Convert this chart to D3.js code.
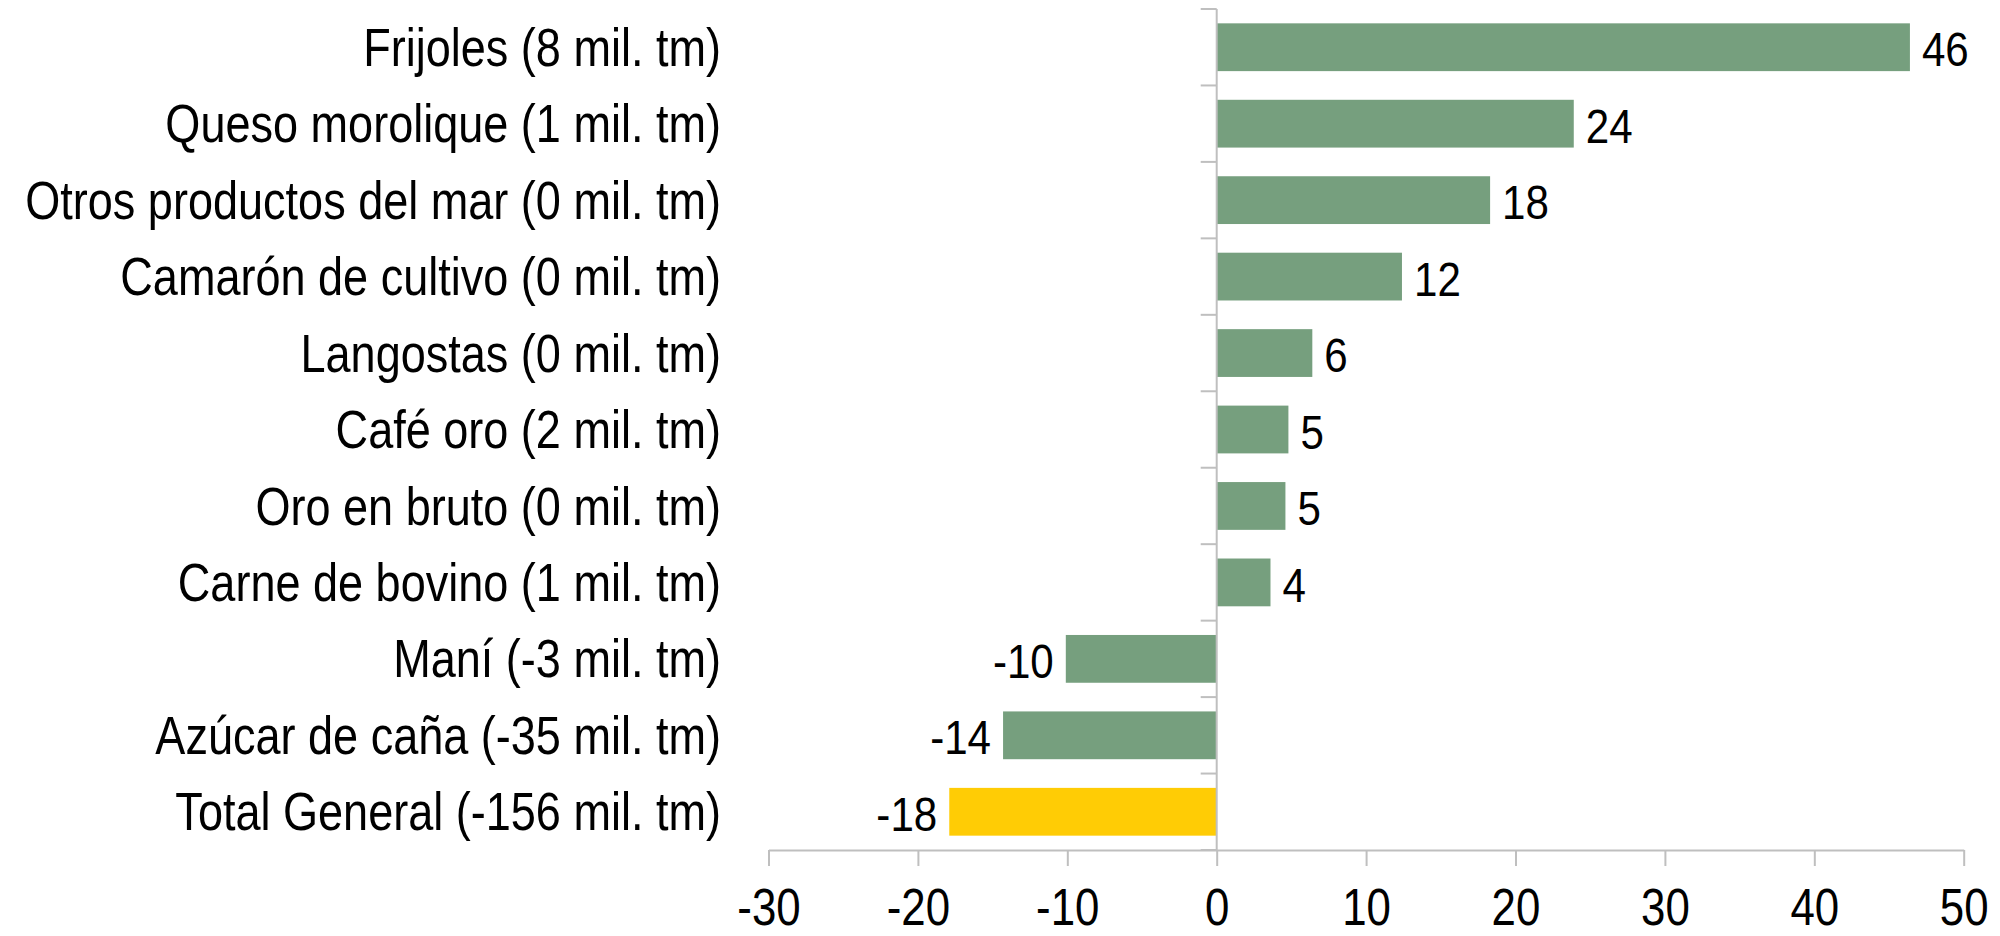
<!DOCTYPE html>
<html>
<head>
<meta charset="utf-8">
<script src="https://cdn.jsdelivr.net/npm/d3@7"></script>
<style>
body { margin: 0; background: #fff; }
text { font-family: "Liberation Sans", Arial, sans-serif; fill: #000; }
</style>
</head>
<body>
<div id="chart"></div>
<script>
var categories = ["Frijoles (8 mil. tm)", "Queso morolique (1 mil. tm)", "Otros productos del mar (0 mil. tm)",
  "Camarón de cultivo (0 mil. tm)", "Langostas (0 mil. tm)", "Café oro (2 mil. tm)", "Oro en bruto (0 mil. tm)",
  "Carne de bovino (1 mil. tm)", "Maní (-3 mil. tm)", "Azúcar de caña (-35 mil. tm)", "Total General (-156 mil. tm)"];
var values = [46.4, 23.9, 18.3, 12.4, 6.4, 4.8, 4.6, 3.6, -10.1, -14.3, -17.9];
var xTicks = [-30, -20, -10, 0, 10, 20, 30, 40, 50];

var width = 2000, height = 936;
// the original font is a narrow one, so squeeze the glyphs a bit
var narrow = 0.85, narrowNum = 0.86;

var svg = d3.select("#chart").append("svg")
  .attr("width", width).attr("height", height);

var x = d3.scaleLinear().domain([-30, 50]).range([768.5, 1963.7]);
var y = d3.scaleBand().domain(categories).range([9, 850])
  .paddingInner(0.375).paddingOuter(0.1875);

var loc = d3.formatLocale({decimal: ".", thousands: ",", grouping: [3], currency: ["$", ""], minus: "-"});
var fmt = loc.format(".0f");

var data = categories.map(function(c, i){ return {name: c, value: values[i]}; });

// bars
svg.append("g").selectAll("rect")
  .data(data).enter()
  .append("rect")
  .attr("x", function(d){ return x(Math.min(0, d.value)); })
  .attr("y", function(d){ return y(d.name); })
  .attr("width", function(d){ return Math.abs(x(d.value) - x(0)); })
  .attr("height", y.bandwidth())
  .style("fill", function(d, i){ return i == categories.length - 1 ? "#ffcc05" : "#769f7e"; });

// x axis
var xAxis = svg.append("g")
  .attr("transform", "translate(0,850)")
  .call(d3.axisBottom(x).tickValues(xTicks).tickFormat(fmt).tickSize(16).tickSizeOuter(0));
xAxis.selectAll("path, line").attr("stroke", "#bfbfbf").attr("stroke-width", 2);
xAxis.selectAll("text")
  .attr("font-size", "51px").attr("font-family", null)
  .attr("y", 75).attr("dy", null)
  .attr("transform", "scale(" + narrowNum + ",1)");

// y axis: line at zero with ticks at the category boundaries
var yAxis = svg.append("g");
yAxis.append("line")
  .attr("x1", x(0)).attr("x2", x(0))
  .attr("y1", y.range()[0]).attr("y2", y.range()[1])
  .attr("stroke", "#bfbfbf").attr("stroke-width", 2);
var bounds = categories.map(function(c){ return y(c) - y.step() * y.paddingOuter(); });
bounds.push(y.range()[1]);
yAxis.selectAll(".tk").data(bounds).enter()
  .append("line")
  .attr("x1", x(0) - 16).attr("x2", x(0))
  .attr("y1", function(d){ return d; }).attr("y2", function(d){ return d; })
  .attr("stroke", "#bfbfbf").attr("stroke-width", 2);

// category labels
svg.append("g").selectAll("text")
  .data(data).enter()
  .append("text")
  .attr("transform", function(d){
    return "translate(721," + (y(d.name) + y.bandwidth() / 2) + ") scale(" + narrow + ",1)";
  })
  .attr("dy", ".35em")
  .attr("font-size", "53px")
  .style("text-anchor", "end")
  .text(function(d){ return d.name; });

// value labels
svg.append("g").selectAll("text")
  .data(data).enter()
  .append("text")
  .attr("transform", function(d){
    var tx = d.value >= 0 ? x(d.value) + 12 : x(d.value) - 12;
    return "translate(" + tx + "," + (y(d.name) + y.bandwidth() / 2 + 2) + ") scale(" + narrowNum + ",1)";
  })
  .attr("dy", ".35em")
  .attr("font-size", "49px")
  .style("text-anchor", function(d){ return d.value >= 0 ? "start" : "end"; })
  .text(function(d){ return fmt(d.value); });
</script>
</body>
</html>
